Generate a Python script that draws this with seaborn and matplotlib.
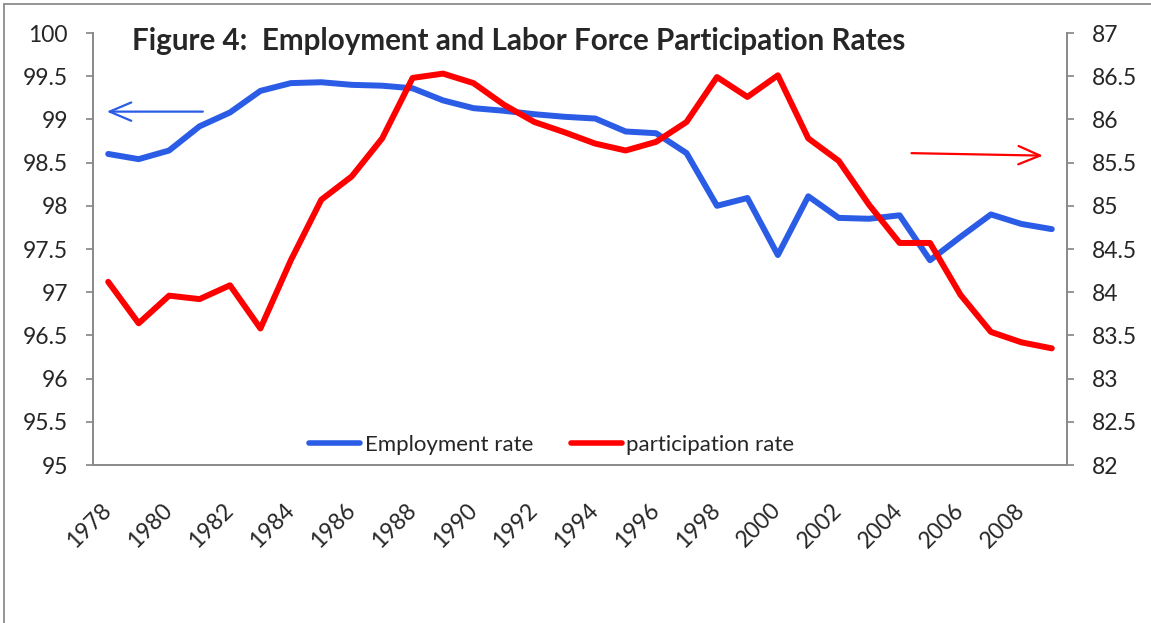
import matplotlib
matplotlib.use("Agg")
import matplotlib.pyplot as plt
from matplotlib.lines import Line2D
from matplotlib.ticker import FixedLocator, FuncFormatter
import numpy as np
import pandas as pd
import seaborn as sns

years = list(range(1978, 2010))

employment_rate = [98.60, 98.54, 98.64, 98.92, 99.08, 99.33, 99.42, 99.43,
                   99.40, 99.39, 99.36, 99.22, 99.13, 99.10, 99.06, 99.03,
                   99.01, 98.86, 98.84, 98.61, 98.00, 98.09, 97.43, 98.11,
                   97.86, 97.85, 97.89, 97.37, 97.64, 97.90, 97.79, 97.73]

participation_rate = [84.12, 83.64, 83.96, 83.92, 84.08, 83.58, 84.37, 85.07,
                      85.34, 85.78, 86.48, 86.53, 86.42, 86.17, 85.97, 85.85,
                      85.72, 85.64, 85.74, 85.97, 86.49, 86.26, 86.51, 85.78,
                      85.52, 85.01, 84.57, 84.57, 83.97, 83.54, 83.42, 83.35]

year_labels = [str(y) for y in years[::2]]

BLUE = "#2a5ce6"
RED = "#ff0000"
GREY = "#8c8c8c"
FONT = ["Lato", "DejaVu Sans"]
TICK_SIZE = 16.5

sns.set_theme(style="white")
plt.rcParams["font.family"] = FONT

df = pd.DataFrame({"pos": np.arange(len(years)),
                   "year": years,
                   "employment": employment_rate,
                   "participation": participation_rate})

fig = plt.figure(figsize=(11.51, 6.23), dpi=100)
ax = fig.add_axes([93 / 1151, 1 - 465 / 623, 974 / 1151, 432 / 623])
ax2 = ax.twinx()

sns.lineplot(data=df, x="pos", y="employment", ax=ax, color=BLUE,
             linewidth=4.3, legend=False, solid_capstyle="round",
             solid_joinstyle="round")
sns.lineplot(data=df, x="pos", y="participation", ax=ax2, color=RED,
             linewidth=4.3, legend=False, solid_capstyle="round",
             solid_joinstyle="round")

n = len(years)
ax.set_xlim(-0.5, n - 0.5)
ax.set_ylim(95, 100)
ax2.set_ylim(82, 87)

fmt = FuncFormatter(lambda v, _: f"{v:g}")
ax.set_yticks(np.arange(95, 100.01, 0.5))
ax2.set_yticks(np.arange(82, 87.01, 0.5))
ax.yaxis.set_major_formatter(fmt)
ax2.yaxis.set_major_formatter(fmt)

# category boundary ticks, labels on every other category centre
ax.xaxis.set_major_locator(FixedLocator(np.arange(-0.5, n, 1.0)))
ax.xaxis.set_major_formatter(FuncFormatter(lambda v, _: ""))
ax.xaxis.set_minor_locator(FixedLocator(np.arange(0, n, 2)))
ax.set_xticklabels(year_labels, minor=True, rotation=45, ha="right",
                   va="center", rotation_mode="anchor", fontsize=TICK_SIZE)
ax.tick_params(axis="x", which="minor", length=0, pad=30)
ax.tick_params(axis="x", which="major", length=6, width=1.3, color=GREY,
               direction="out")
ax.tick_params(axis="y", length=5, width=1.3, color=GREY, direction="out",
               labelsize=TICK_SIZE, pad=13, left=True)
ax2.tick_params(axis="y", length=5, width=1.3, color=GREY, direction="out",
                labelsize=TICK_SIZE, pad=13, right=True)

ax.set_xlabel("")
ax.set_ylabel("")
ax2.set_ylabel("")

for a in (ax, ax2):
    a.spines["top"].set_visible(False)
    for side in ("left", "right", "bottom"):
        a.spines[side].set_color(GREY)
        a.spines[side].set_linewidth(1.4)

# direction arrows pointing at each series' axis
ax.annotate("", xy=(-0.14, 99.09), xytext=(3.2, 99.09),
            arrowprops=dict(arrowstyle="->,head_length=1.3,head_width=0.55",
                            color=BLUE, lw=1.6))
ax2.annotate("", xy=(30.8, 85.58), xytext=(26.3, 85.61),
             arrowprops=dict(arrowstyle="->,head_length=1.3,head_width=0.55",
                             color=RED, lw=1.6))

handles = [Line2D([], [], color=BLUE, lw=4.0, solid_capstyle="round"),
           Line2D([], [], color=RED, lw=4.0, solid_capstyle="round")]
ax2.legend(handles, ["Employment rate", "participation rate"], ncol=2,
           loc="center", bbox_to_anchor=(0.471, 0.046), frameon=False,
           fontsize=16, handlelength=2.3, handletextpad=0.2,
           columnspacing=1.7, borderpad=0)

fig.text(132 / 1151, 1 - 50 / 623,
         "Figure 4:  Employment and Labor Force Participation Rates",
         fontsize=21.3, fontweight="bold", ha="left", va="baseline")

# outer chart frame
fig.add_artist(Line2D([4 / 1151, 1.0], [1 - 3.5 / 623, 1 - 3.5 / 623],
                      transform=fig.transFigure, color=GREY, lw=1.3))
fig.add_artist(Line2D([4 / 1151, 4 / 1151], [0.0, 1 - 3.5 / 623],
                      transform=fig.transFigure, color=GREY, lw=1.3))

fig.savefig("out.png", dpi=100)
